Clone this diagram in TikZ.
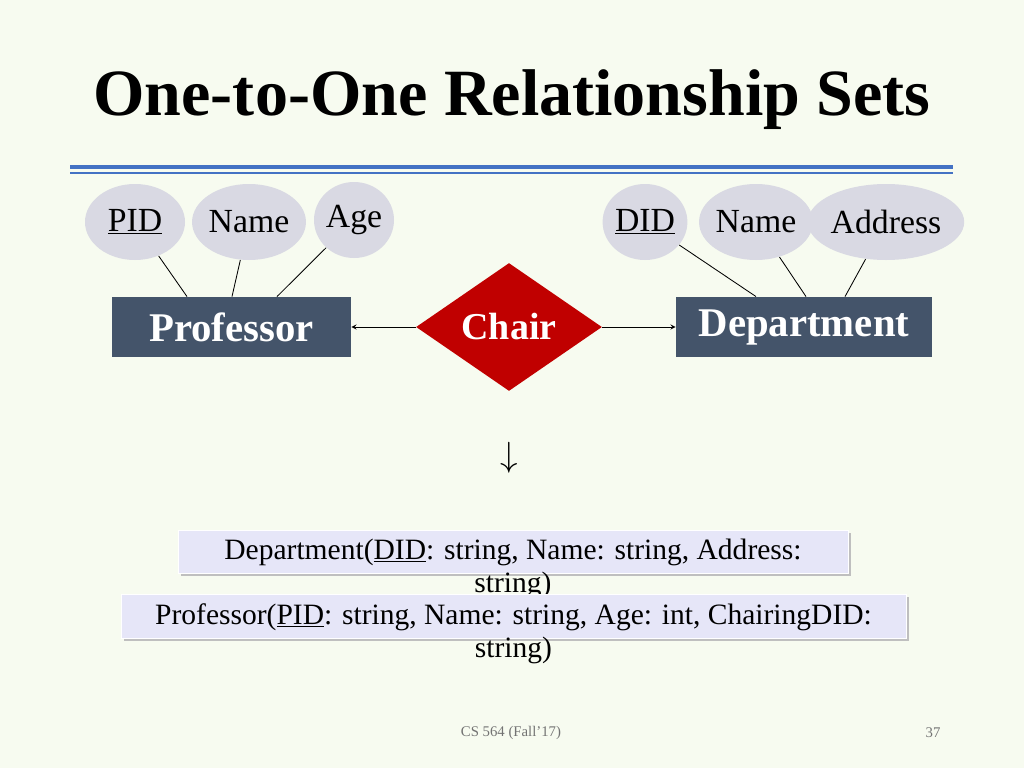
\documentclass[tikz,border=0pt]{standalone}
\usepackage{fontspec}
\setmainfont{Liberation Serif}
\usetikzlibrary{shapes.geometric}
\definecolor{bgcol}{HTML}{F7FBF0}
\definecolor{attrcol}{HTML}{D9D9E3}
\definecolor{entcol}{HTML}{44546A}
\definecolor{relcol}{HTML}{C00000}
\definecolor{boxcol}{HTML}{E6E6F8}
\definecolor{rulecol}{HTML}{4472C4}
\tikzset{
  attr/.style={ellipse, fill=attrcol, inner sep=0pt, minimum height=19mm, font=\fontsize{24}{28}\selectfont},
  entity/.style={rectangle, fill=entcol, text=white, minimum height=15mm, font=\fontsize{29}{33}\selectfont\bfseries},
  relship/.style={diamond, fill=relcol, text=white, inner sep=0pt, font=\fontsize{27}{31}\selectfont\bfseries},
  schemabox/.style={rectangle, fill=boxcol, draw=white, line width=0.6pt},
  schematext/.style={font=\fontsize{21}{23.5}\selectfont, align=center}
}
\begin{document}
\begin{tikzpicture}[x=0.25mm, y=-0.25mm, semithick]
  \fill[bgcol] (0,0) rectangle (1024,768);
  \useasboundingbox (0,0) rectangle (1024,768);
  % title
  \node (title) at (512,100) {\fontsize{47}{52}\selectfont\bfseries One-to-One Relationship Sets};
  \draw[rulecol, line width=2.5pt] (70,167) -- (953,167);
  \draw[rulecol, line width=0.8pt] (70,173) -- (953,173);
  % attributes
  \node[attr, minimum width=25mm] (pid)   at (135,222) {\underline{PID}};
  \node[attr, minimum width=24mm] (pname) at (249,222) {Name};
  \node[attr, minimum width=20mm] (age)   at (354,220) {Age};
  \node[attr, minimum width=20mm] (did)   at (645,222) {\underline{DID}};
  \node[attr, minimum width=26mm] (dname) at (756,222) {Name};
  \node[attr, minimum width=32mm] (addr)  at (886,222) {Address};
  % entities and relationship
  \node[entity, minimum width=59.75mm] (prof) at (231.5,327) {Professor};
  \node[entity, minimum width=64mm] (dept) at (804,327) {Department};
  \node[relship, minimum width=46.5mm, minimum height=32mm] (chair) at (509,327) {Chair};
  \draw[->, >=stealth] (chair) -- (prof);
  \draw[->, >=stealth] (chair) -- (dept);
  % attribute links
  \draw (pid) -- (prof.north west -| 187,0);
  \draw (pname) -- (prof.north west -| 232,0);
  \draw (age) -- (prof.north west -| 277,0);
  \draw (did) -- (dept.north west -| 756,0);
  \draw (dname) -- (dept.north west -| 806,0);
  \draw (addr) -- (dept.north west -| 845,0);
  % translation
  \node (down) at (509,458) {\fontsize{40}{44}\selectfont$\downarrow$};
  \fill[black!25] (181,533) rectangle (851,576);
  \node[schemabox, minimum width=167.5mm, minimum height=10.75mm] (deptbox) at (513,551.5) {};
  \node[schematext] (depttext) at (513,569) {Department(\underline{DID}: string, Name: string, Address:\\string)};
  \fill[black!25] (124,597) rectangle (909,641);
  \node[schemabox, minimum width=196.25mm, minimum height=11mm] (profbox) at (513.5,616) {};
  \node[schematext] (proftext) at (513.5,634) {Professor(\underline{PID}: string, Name: string, Age: int, ChairingDID:\\string)};
  % footer
  \node[text=black!55, font=\fontsize{10.5}{12}\selectfont] (course) at (511,733) {CS 564 (Fall'17)};
  \node[text=black!55, font=\fontsize{10.5}{12}\selectfont] (page) at (933,733) {37};
\end{tikzpicture}
\end{document}
